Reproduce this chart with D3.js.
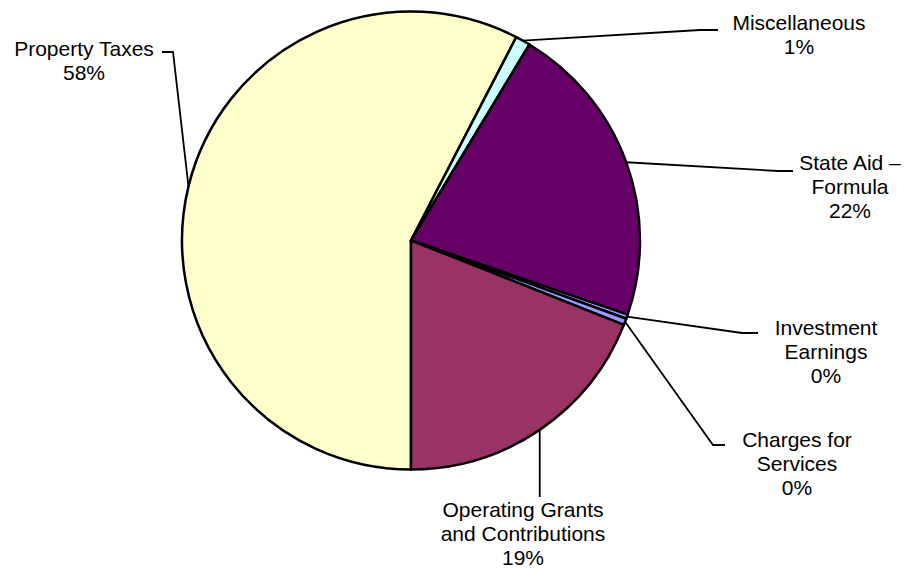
<!DOCTYPE html>
<html>
<head>
<meta charset="utf-8">
<script src="https://cdn.jsdelivr.net/npm/d3@7"></script>
<style>
  body { margin: 0; background: #fff; }
  .slice { stroke: #000; stroke-width: 2.5; stroke-linejoin: round; }
  .leader { fill: none; stroke: #000; stroke-width: 1.8; }
  .slice-label { font-family: Arial, "Liberation Sans", sans-serif; font-size: 21px; fill: #000; }
</style>
</head>
<body>
<script>
'use strict';

// data (share of revenue, percent)
var categories = ["Property Taxes", "Miscellaneous", "State Aid \u2013 Formula",
                  "Investment Earnings", "Charges for Services", "Operating Grants and Contributions"];
var shares = [57.6, 1.05, 21.6, 0.3, 0.45, 19.0];
var labelLines = [["Property Taxes"], ["Miscellaneous"], ["State Aid \u2013", "Formula"],
                  ["Investment", "Earnings"], ["Charges for", "Services"], ["Operating Grants", "and Contributions"]];
var colors = ["#FFFFCC", "#CCFFFF", "#660066", "#9999FF", "#9999FF", "#993366"];

var myChart = {};
myChart.width = 917;
myChart.height = 568;
myChart.cx = 411;
myChart.cy = 240.5;
myChart.radius = 229;
myChart.lineHeight = 24;

// where each label sits (centre x, first baseline) and where its leader line ends
myChart.labelLayout = [
    { x: 84,  y: 56,  elbow: [173, 52],  end: [162, 52] },
    { x: 799, y: 30,  elbow: [700, 30],  end: [718, 30] },
    { x: 850, y: 170, elbow: [778, 171], end: [793, 171] },
    { x: 826, y: 335, elbow: [742, 333], end: [758, 333] },
    { x: 797, y: 447, elbow: [713, 445], end: [725, 445] },
    { x: 523, y: 517, elbow: null,        end: [null, 497] }
];

myChart.appendSvg = function(domObj){
    return d3.select(domObj)
        .append("svg")
        .attr("width", myChart.width)
        .attr("height", myChart.height);
};

myChart.pieData = function(){
    var pie = d3.pie()
        .sort(null)
        .startAngle(Math.PI)
        .endAngle(3 * Math.PI)
        .value(function(d){ return d; });
    return pie(shares);
};

myChart.appendSlices = function(g, arcs){
    var arc = d3.arc().innerRadius(0).outerRadius(myChart.radius);

    g.selectAll(".slice")
        .data(arcs)
        .enter()
            .append("path")
            .classed("slice", true)
            .attr("d", arc)
            .attr("fill", function(d, i){ return colors[i]; });
};

myChart.appendLeaders = function(g, arcs){
    var edge = d3.arc().innerRadius(myChart.radius).outerRadius(myChart.radius);

    g.selectAll(".leader")
        .data(arcs)
        .enter()
            .append("path")
            .classed("leader", true)
            .attr("d", function(d, i){
                var p = edge.centroid(d);
                var start = [p[0] + myChart.cx, p[1] + myChart.cy];
                var lay = myChart.labelLayout[i];
                var end = [lay.end[0] === null ? start[0] : lay.end[0], lay.end[1]];
                var pts = lay.elbow ? [start, lay.elbow, end] : [start, end];
                return d3.line()(pts);
            });
};

myChart.appendLabels = function(svg, arcs){
    var total = d3.sum(shares);

    var labels = svg.selectAll(".slice-label")
        .data(arcs)
        .enter()
            .append("text")
            .classed("slice-label", true)
            .attr("text-anchor", "middle");

    labels.each(function(d, i){
        var lay = myChart.labelLayout[i];
        var lines = labelLines[i].concat([Math.round(d.value / total * 100) + "%"]);
        d3.select(this).selectAll("tspan")
            .data(lines)
            .enter()
                .append("tspan")
                .attr("x", lay.x)
                .attr("y", function(t, k){ return lay.y + k * myChart.lineHeight; })
                .text(function(t){ return t; });
    });
};

myChart.run = function(){
    var svg = myChart.appendSvg("body");
    var arcs = myChart.pieData();

    myChart.appendLeaders(svg, arcs);

    var g = svg.append("g")
        .attr("transform", "translate(" + myChart.cx + "," + myChart.cy + ")");
    myChart.appendSlices(g, arcs);

    myChart.appendLabels(svg, arcs);
};

window.onload = myChart.run;
</script>
</body>
</html>
